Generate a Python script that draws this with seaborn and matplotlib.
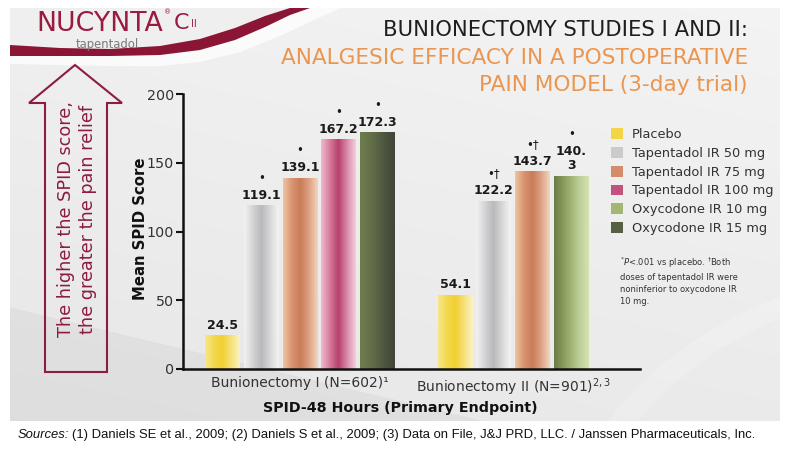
import numpy as np
import pandas as pd
import matplotlib
matplotlib.use("Agg")
import matplotlib.pyplot as plt
import seaborn as sns
from matplotlib.patches import Polygon
from matplotlib.colors import LinearSegmentedColormap, to_rgba

# ---------------- data ----------------
treatments = ["Placebo", "Tapentadol IR 50 mg", "Tapentadol IR 75 mg",
              "Tapentadol IR 100 mg", "Oxycodone IR 10 mg", "Oxycodone IR 15 mg"]
study_labels = ["Bunionectomy I (N=602)¹", "Bunionectomy II (N=901)$^{\\mathregular{2,3}}$"]

study1_treatments = ["Placebo", "Tapentadol IR 50 mg", "Tapentadol IR 75 mg",
                     "Tapentadol IR 100 mg", "Oxycodone IR 15 mg"]
study1_values = [24.5, 119.1, 139.1, 167.2, 172.3]
study1_value_labels = ["24.5", "119.1", "139.1", "167.2", "172.3"]
study1_marks = ["", "*", "*", "*", "*"]

study2_treatments = ["Placebo", "Tapentadol IR 50 mg", "Tapentadol IR 75 mg",
                     "Oxycodone IR 10 mg"]
study2_values = [54.1, 122.2, 143.7, 140.3]
study2_value_labels = ["54.1", "122.2", "143.7", "140.\n3"]
study2_marks = ["", "*†", "*†", "*"]

y_ticks = [0, 50, 100, 150, 200]

# ---------------- styles ----------------
palette = {
    "Placebo": "#f2d548",
    "Tapentadol IR 50 mg": "#cbcbcd",
    "Tapentadol IR 75 mg": "#d38d6a",
    "Tapentadol IR 100 mg": "#c4527e",
    "Oxycodone IR 10 mg": "#a3b673",
    "Oxycodone IR 15 mg": "#565f42",
}
gradients = {
    "Placebo": ["#f7e68c", "#f3d84e", "#f1d032", "#f6e07a", "#fbf2c4"],
    "Tapentadol IR 50 mg": ["#f2f2f2", "#d4d4d6", "#b9b9bb", "#d7d7d9", "#f3f3f3"],
    "Tapentadol IR 75 mg": ["#efc3a2", "#d9946f", "#c97d59", "#dda183", "#f4d4bf"],
    "Tapentadol IR 100 mg": ["#f0b9cc", "#d77a9c", "#b8406c", "#d98aa8", "#f5cddb"],
    "Oxycodone IR 10 mg": ["#6d7d45", "#869a5c", "#a2b777", "#bed09a", "#d4e3ae"],
    "Oxycodone IR 15 mg": ["#6f7d4d", "#66734a", "#5a6444", "#4b523e", "#414639"],
}
MAROON = "#8c1c40"

sns.set_theme(style="white")
plt.rcParams["font.family"] = ["DejaVu Sans"]

# ---------------- build table ----------------
rows = []
centers = []
offset = 0
for tr, vals, labs, marks in [
    (study1_treatments, study1_values, study1_value_labels, study1_marks),
    (study2_treatments, study2_values, study2_value_labels, study2_marks),
]:
    pos = offset + np.arange(len(tr))
    centers.append(pos.mean())
    for p, t, v, l, m in zip(pos, tr, vals, labs, marks):
        rows.append(dict(pos=float(p), treatment=t, value=v, label=l, mark=m))
    offset += len(tr) + 1
df = pd.DataFrame(rows)

W, H = 789, 459
fig = plt.figure(figsize=(W / 100, H / 100), dpi=100)
fig.patch.set_facecolor("white")

# ---------------- slide background (pixel coordinates) ----------------
bg = fig.add_axes([0, 0, 1, 1], zorder=0)
bg.set_xlim(0, W)
bg.set_ylim(H, 0)
bg.axis("off")

yy, xx = np.mgrid[8:421, 10:780].astype(float)
val = 0.905 + 0.035 * (1 - (yy - 8) / 413) + 0.015 * (xx / 780)
val = np.where(yy > 307 + (xx - 10) * 0.24, val - 0.035, val)
arc = ((xx - 980) ** 2 / 420 ** 2 + (yy - 560) ** 2 / 300 ** 2)
val = np.where((arc < 1.0) & (arc > 0.88), val + 0.012, val)
img = np.dstack([np.clip(val, 0, 1)] * 3)
bg.imshow(img, extent=[10, 780, 421, 8], aspect="auto", interpolation="bilinear", zorder=0)

# top-left lighter area + swoosh
top_edge = [(10, 45), (60, 48), (110, 49), (160, 46), (200, 39), (235, 28), (265, 16), (290, 8)]
bottom_edge = [(310, 8), (290, 15), (265, 27), (235, 40), (200, 50), (160, 55), (110, 56), (60, 56), (10, 56)]
top_area = [(10, 8)] + top_edge
bg.add_patch(Polygon(top_area, closed=True, fc="#efefef", ec="none", zorder=1))
highlight = [(10, 56), (110, 56), (160, 55), (200, 50), (235, 40), (265, 27), (290, 15), (310, 8),
             (340, 8), (312, 21), (280, 36), (240, 52), (200, 62), (160, 66), (110, 66), (10, 64)]
bg.add_patch(Polygon(highlight, closed=True, fc="white", ec="none", alpha=0.75, zorder=1))
bg.add_patch(Polygon(top_edge + bottom_edge, closed=True, fc="#8a1535", ec="none", zorder=2))

# logo
bg.text(36, 37.4, "NUCYNTA", fontsize=19.3, color="#9b1b40", ha="left", va="bottom", zorder=3)
bg.text(164, 12, "®", fontsize=5, color="#9b1b40", ha="left", va="center", zorder=3)
bg.text(174, 23, "C", fontsize=16, color="#9b1b40", ha="left", va="center", zorder=3)
bg.text(191, 24, "II", fontsize=7, color="#9b1b40", ha="left", va="center", zorder=3)
bg.text(107, 37.8, "tapentadol", fontsize=8.4, color="#7a7a7a", ha="center", va="top", zorder=3)

# titles
bg.text(748, 30, "BUNIONECTOMY STUDIES I AND II:", fontsize=15.2, color="#1e1e1e",
        ha="right", va="center", zorder=3)
bg.text(748, 57.5, "ANALGESIC EFFICACY IN A POSTOPERATIVE", fontsize=15.6, color="#eb9650",
        ha="right", va="center", zorder=3)
bg.text(748, 85, "PAIN MODEL (3-day trial)", fontsize=15.6, color="#eb9650",
        ha="right", va="center", zorder=3)

# left arrow
arrow = [(75, 65), (122, 103), (107, 103), (107, 372), (45, 372), (45, 103), (29, 103)]
bg.add_patch(Polygon(arrow, closed=True, fc="none", ec=MAROON, lw=1.5, zorder=3))
bg.text(77, 219, "The higher the SPID score,\nthe greater the pain relief", rotation=90,
        fontsize=12.7, color=MAROON, ha="center", va="center", linespacing=1.25, zorder=3)

# footnote near legend
bg.text(620, 281, "$^{*}P$<.001 vs placebo. $^{\\dagger}$Both\ndoses of tapentadol IR were\n"
        "noninferior to oxycodone IR\n10 mg.", fontsize=6.0, color="#333333",
        ha="left", va="center", linespacing=1.4, zorder=3)

# sources line
t1 = bg.text(18, 435, "Sources:", fontsize=9.4, style="italic", family=["Liberation Sans", "DejaVu Sans"],
             color="#111111", ha="left", va="center")
renderer = fig.canvas.get_renderer()
bb = t1.get_window_extent(renderer)
bg.text(bb.x1 + 3, 435, "(1) Daniels SE et al., 2009; (2) Daniels S et al., 2009; (3) Data on File, "
        "J&J PRD, LLC. / Janssen Pharmaceuticals, Inc.", fontsize=9.4,
        family=["Liberation Sans", "DejaVu Sans"], color="#111111", ha="left", va="center")

# ---------------- main chart ----------------
ax = fig.add_axes([183 / W, 1 - 369 / H, (640 - 183) / W, (369 - 94) / H], zorder=2)
ax.set_facecolor("none")

sns.barplot(data=df, x="pos", y="value", hue="treatment", hue_order=treatments,
            palette=palette, native_scale=True, dodge=False, width=0.9,
            saturation=1, errorbar=None, edgecolor="none", ax=ax)

# gradient shading of bars
color_to_treat = {tuple(np.round(to_rgba(c), 3)): t for t, c in palette.items()}
grad_row = np.linspace(0, 1, 64)[np.newaxis, :]
for patch in list(ax.patches):
    key = tuple(np.round(patch.get_facecolor(), 3))
    t = color_to_treat.get(key)
    if t is None or patch.get_height() <= 0:
        continue
    cmap = LinearSegmentedColormap.from_list(t, gradients[t])
    x0, w = patch.get_x(), patch.get_width()
    y0, h = patch.get_y(), patch.get_height()
    im = ax.imshow(grad_row, extent=[x0, x0 + w, y0, y0 + h], aspect="auto", cmap=cmap,
                   origin="lower", interpolation="bilinear", zorder=patch.get_zorder() + 0.01)
    im.set_clip_path(patch)

# value labels and significance marks
for _, r in df.iterrows():
    n_lines = r["label"].count("\n") + 1
    off_px = 10 + (n_lines - 1) * 7.5
    ax.annotate(r["label"], (r["pos"], r["value"]), xytext=(0, off_px * 0.72),
                textcoords="offset points", ha="center", va="center", fontsize=9,
                fontweight="bold", color="#1a1a1a", linespacing=1.05)
    if r["mark"]:
        mk_px = 10 + (n_lines - 1) * 15 + 17
        ax.annotate(r["mark"].replace("*", "•"), (r["pos"], r["value"]), xytext=(0, mk_px * 0.72),
                    textcoords="offset points", ha="center", va="center", fontsize=8.5,
                    color="#1a1a1a")

ax.set_xlim(-1.02, 10.77)
ax.set_ylim(0, 200)
ax.set_yticks(y_ticks)
ax.set_xticks(centers)
ax.set_xticklabels(study_labels)
for s in ["top", "right"]:
    ax.spines[s].set_visible(False)
for s in ["left", "bottom"]:
    ax.spines[s].set_linewidth(1.8)
    ax.spines[s].set_color("#111111")
ax.tick_params(axis="y", length=5, width=1.5, color="#111111", labelsize=10.3,
               labelcolor="#333333", pad=1.5, left=True)
ax.tick_params(axis="x", length=0, labelsize=10, labelcolor="#333333", pad=5)

ax.set_ylabel("Mean SPID Score", fontweight="bold", fontsize=10.7, color="#111111")
ax.yaxis.set_label_coords((148 - 183) / 457, (369 - 229) / 275)
ax.set_xlabel("SPID-48 Hours (Primary Endpoint)", fontweight="bold", fontsize=10.3, color="#111111")
ax.xaxis.set_label_coords((400 - 183) / 457, (369 - 401) / 275)

sns.move_legend(ax, "upper left", bbox_to_anchor=(611 / W, 1 - 128 / H),
                bbox_transform=fig.transFigure, frameon=False, title=None,
                fontsize=9.3, labelcolor="#333333", handlelength=0.93, handleheight=0.93,
                handletextpad=0.67, labelspacing=0.45, borderpad=0, borderaxespad=0)

fig.savefig("out.png", dpi=100, facecolor="white")
